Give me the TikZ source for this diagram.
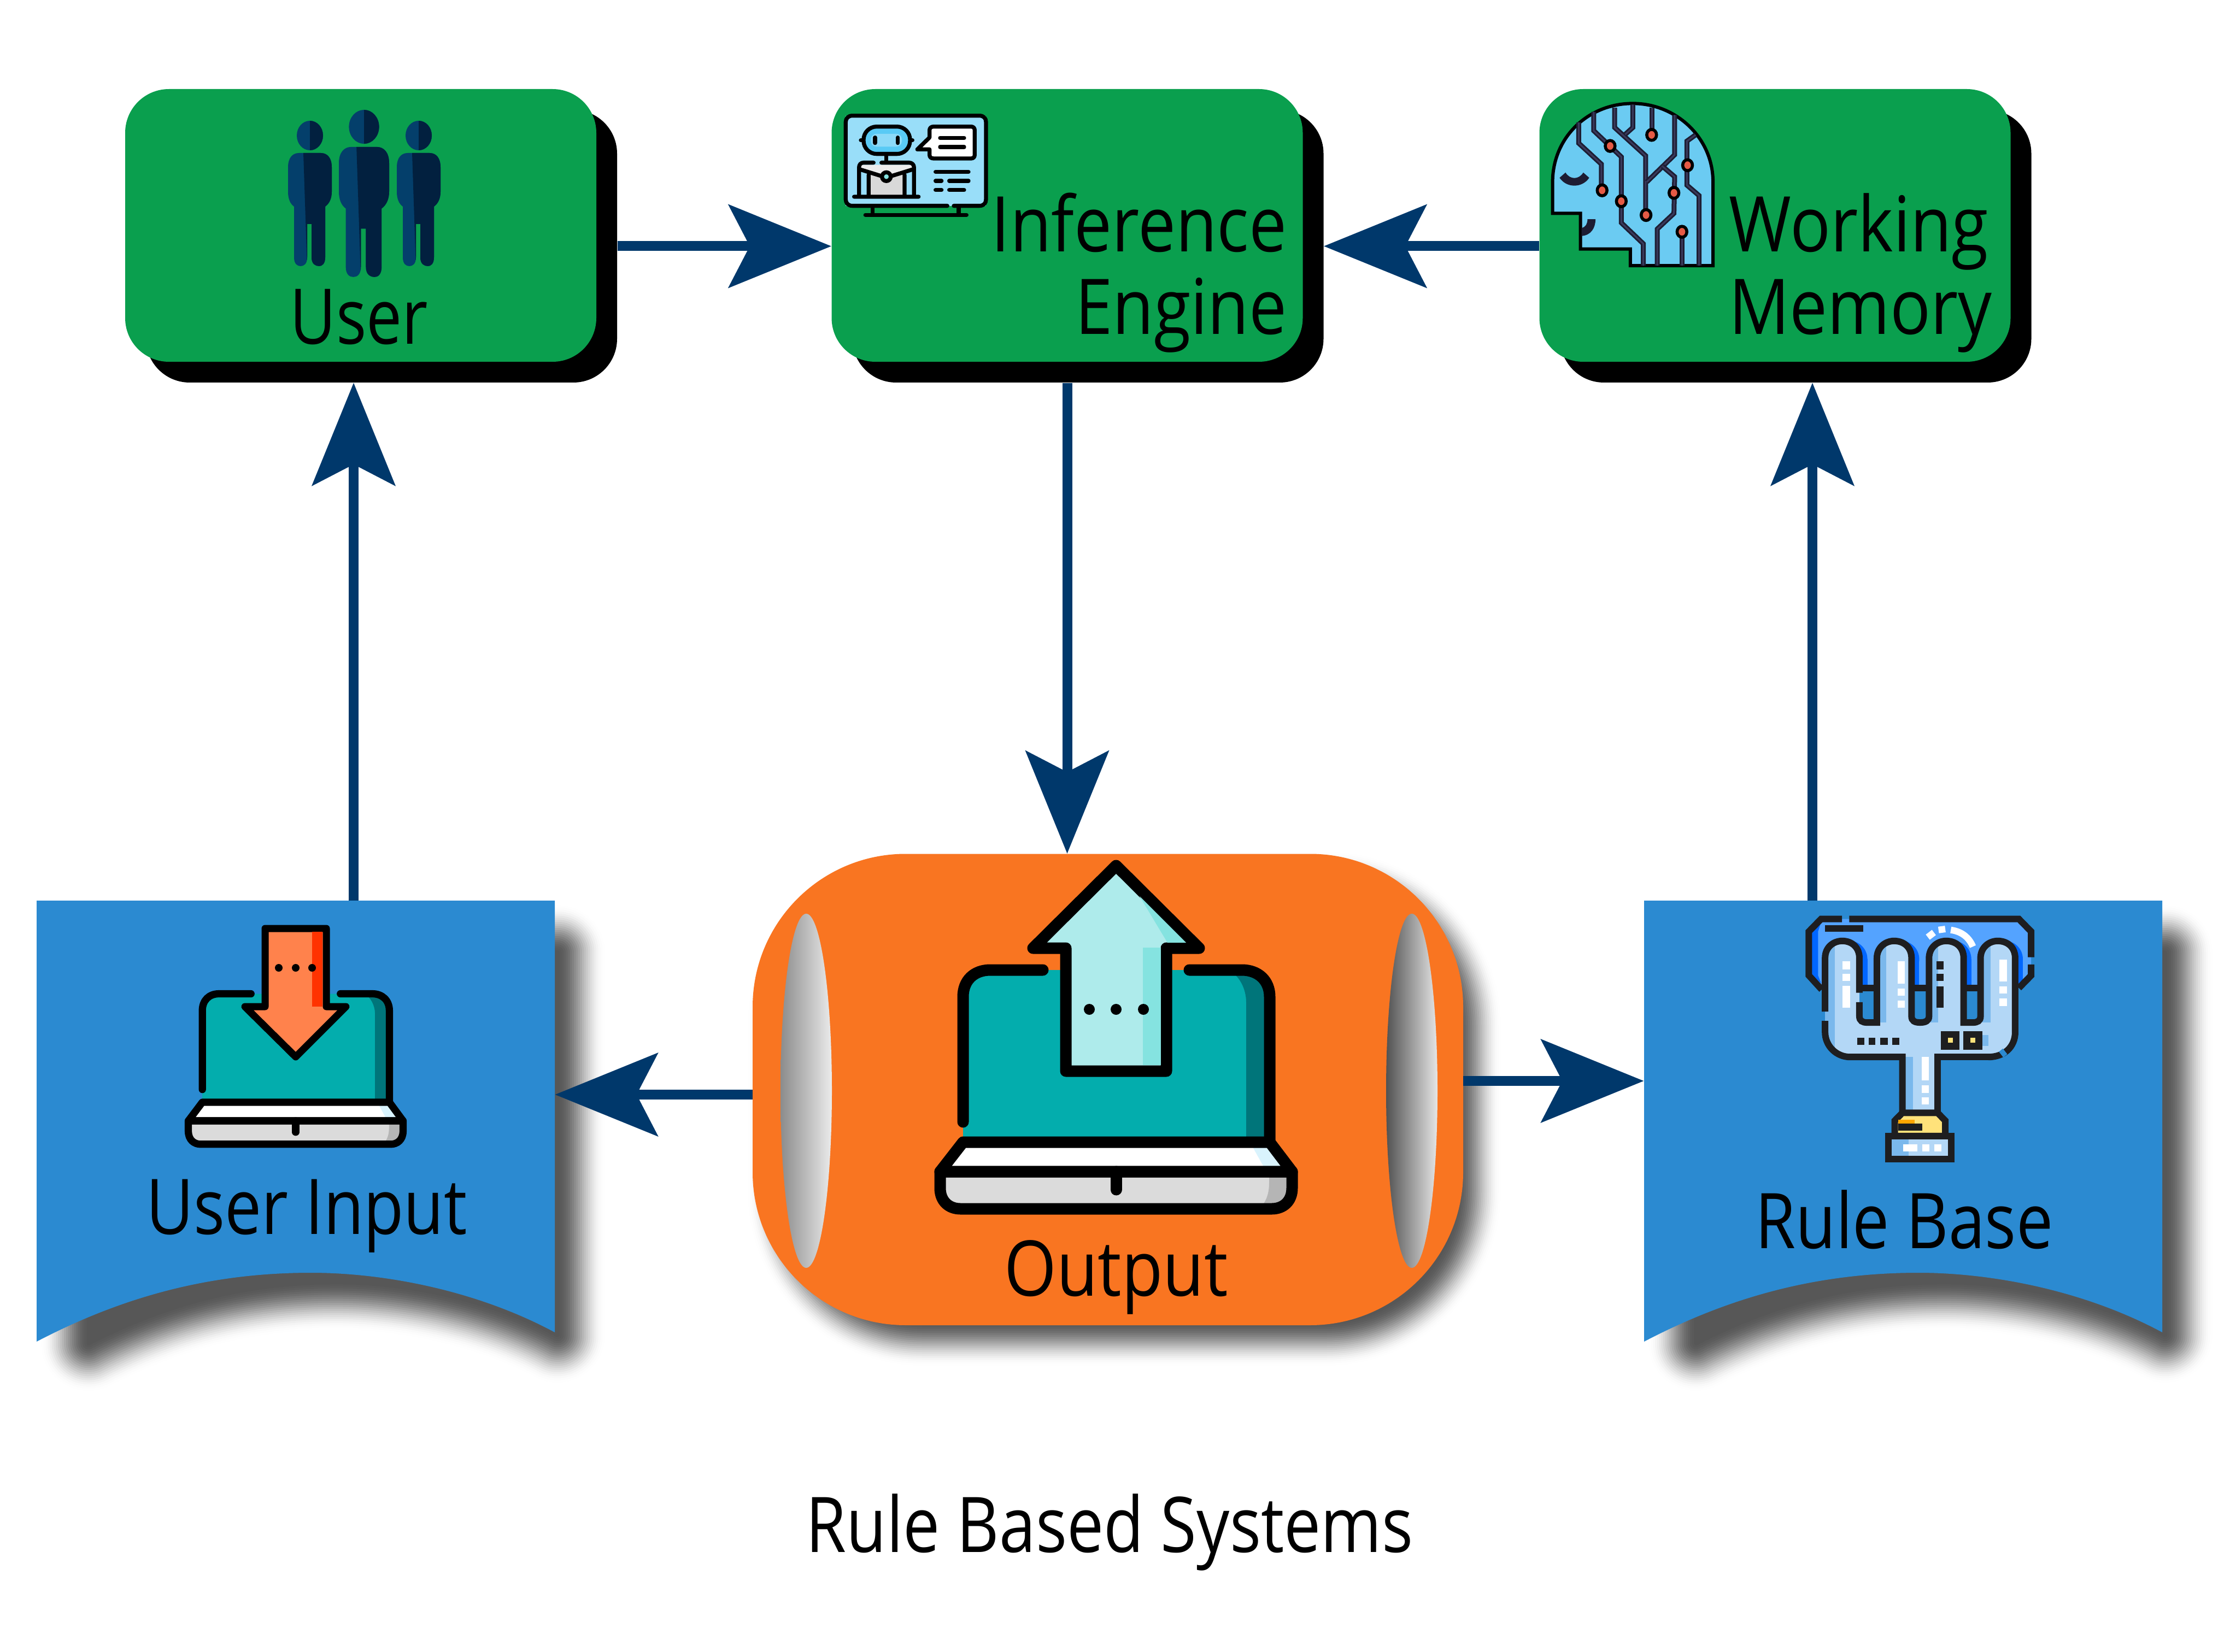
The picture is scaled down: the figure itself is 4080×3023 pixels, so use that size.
\documentclass[tikz,border=0pt]{standalone}
\usepackage{fontspec}
\setmainfont{Open Sans}[FakeStretch=0.852]
\newfontfamily\widefont{Open Sans}[FakeStretch=0.875]
\newfontfamily\slimfont{Open Sans}[FakeStretch=0.825]
\usetikzlibrary{arrows.meta}
\definecolor{boxgreen}{HTML}{0A9F4E}
\definecolor{docblue}{HTML}{2B8AD1}
\definecolor{outorange}{HTML}{F97521}
\definecolor{navy}{HTML}{00386B}
\definecolor{personlight}{HTML}{043F6B}
\definecolor{persondark}{HTML}{02203F}
\definecolor{scrteal}{HTML}{03ADAD}
\definecolor{scrdark}{HTML}{00757A}
\definecolor{pale}{HTML}{AEEBEB}
\definecolor{paledark}{HTML}{85E3E0}
\definecolor{headblue}{HTML}{6BCBF2}
\definecolor{wire}{HTML}{1D1D33}
\definecolor{wireline}{HTML}{3A3A5C}
\definecolor{dotred}{HTML}{E55A45}
\definecolor{ink}{HTML}{1E1E20}
\definecolor{handlight}{HTML}{B3D7F6}
\definecolor{handshade}{HTML}{7AB8EC}
\definecolor{plateblue}{HTML}{54A3FF}
\definecolor{platedark}{HTML}{0066FF}
\definecolor{gold}{HTML}{FFE27A}
\tikzset{
	greenbox/.style={fill=boxgreen,rounded corners=8mm,minimum width=86.2mm,minimum height=49.9mm,inner sep=0pt},
	blackbox/.style={greenbox,fill=black},
	docbox/.style={minimum width=94.8mm,minimum height=79mm,inner sep=0pt},
	lbl/.style={inner sep=0pt,anchor=base,font=\fontsize{40}{43}\selectfont},
	lblwide/.style={lbl,font=\fontsize{40}{43}\selectfont\widefont},
	flow/.style={draw=navy,line width=1.8mm,-{Stealth[length=18.9mm,width=15.4mm,inset=4mm,line width=0pt]}}
}
\newcommand{\softshadow}[3]{\begin{scope}[#1]
	\foreach \n in {24,23,...,0} {
		\pgfmathsetmacro{\shadeval}{33*(1+cos(180*\n/24))}
		\filldraw[draw=black!\shadeval,fill=black!\shadeval,line join=round,line width=2*\n/24*#2*0.1mm] #3;
	}
\end{scope}}
\newcommand{\sheetpath}{(67,1648) -- (1015,1648) -- (1015,2438) .. controls (870,2360) and (700,2329) .. (569,2329) .. controls (380,2329) and (220,2375) .. (67,2455) -- cycle}
\newcommand{\sheet}[1]{\begin{scope}[shift={(#1,0)}]
	\softshadow{shift={(591,2093)},xscale=.905,yscale=.886,shift={(-541,-2043)}}{90}{\sheetpath}
	\fill[docblue] \sheetpath;
\end{scope}}
\newcommand{\holeshape}[4]{\shade[left color=#2,middle color=#3,right color=#4] (#1,1996) ellipse[x radius=47,y radius=324];}
\newcommand{\laptopicon}[4]{\begin{scope}[shift={(#1,#2)},xscale=#3,yscale=#4,line width=#4*2.1mm,line cap=round,line join=round]
	\fill[scrteal] (-280,-54) -- (-280,-320) .. controls (-280,-350) and (-260,-369) .. (-230,-369) -- (230,-369) .. controls (260,-369) and (281,-350) .. (281,-320) -- (281,-54) -- cycle;
	\fill[scrdark] (238,-54) -- (238,-310) .. controls (238,-335) and (225,-360) .. (205,-369) -- (230,-369) .. controls (260,-369) and (281,-350) .. (281,-320) -- (281,-54) -- cycle;
	\draw (-280,-91) -- (-280,-320) .. controls (-280,-350) and (-260,-369) .. (-230,-369) -- (-134,-369);
	\draw (134,-369) -- (230,-369) .. controls (260,-369) and (281,-350) .. (281,-320) -- (281,-54);
	\fill[white] (-280,-54) -- (281,-54) -- (322,0) -- (-322,0) -- cycle;
	\fill[cyan!15] (245,-54) -- (285,-54) -- (318,0) -- (275,0) -- cycle;
	\fill[black!14] (-322,0) -- (322,0) -- (322,30) .. controls (322,55) and (305,68) .. (285,68) -- (-285,68) .. controls (-305,68) and (-322,55) .. (-322,30) -- cycle;
	\fill[black!29] (280,0) -- (322,0) -- (322,30) .. controls (322,55) and (305,68) .. (285,68) -- (262,68) .. controls (275,55) and (280,40) .. (280,20) -- cycle;
	\draw (-280,-54) -- (281,-54) -- (322,0) -- (-322,0) -- cycle;
	\draw (-322,0) -- (322,0) -- (322,30) .. controls (322,55) and (305,68) .. (285,68) -- (-285,68) .. controls (-305,68) and (-322,55) .. (-322,30) -- cycle;
	\draw (0,0) -- (0,33);
\end{scope}}
\newcommand{\persontop}{(-40,85) .. controls (-40,68) and (-32,59) .. (-20,59) -- (20,59) .. controls (32,59) and (40,68) .. (40,85) -- (40,130) .. controls (40,143) and (35,152) .. (28,157) -- (28,250) .. controls (28,262) and (22,266) .. (17,266) .. controls (10,266) and (3,262) .. (3,250) -- (3,189) -- (-5,189) -- (-5,250) .. controls (-5,262) and (-11,266) .. (-17,266) .. controls (-23,266) and (-29,262) .. (-29,250) -- (-29,157) .. controls (-36,152) and (-40,143) .. (-40,130) -- cycle}
\newcommand{\personicon}[3]{\begin{scope}[shift={(#1,#2)},scale=#3]
	\fill[personlight] (0,27) circle[x radius=24,y radius=27];
	\fill[personlight] \persontop;
	\begin{scope}
		\clip (0,0) rectangle (30,56);
		\fill[persondark] (0,27) circle[x radius=24,y radius=27];
	\end{scope}
	\begin{scope}
		\clip (-12,59) -- (45,59) -- (45,270) -- (-5,270) -- cycle;
		\fill[persondark] \persontop;
	\end{scope}
\end{scope}}
\newcommand{\handsilhouette}{(248,450) -- (248,215) .. controls (248,180) and (275,160) .. (304,160) .. controls (335,160) and (360,180) .. (360,215) -- (360,400) .. controls (360,415) and (370,420) .. (385,420) -- (417,420) -- \handrest -- (615,530) -- (615,710) -- (500,710) -- (500,530) -- (330,530) .. controls (285,530) and (248,495) .. (248,450) -- cycle}
\newcommand{\handrest}{(417,215) .. controls (417,180) and (445,160) .. (473,160) .. controls (505,160) and (530,180) .. (530,215) -- (530,400) .. controls (530,415) and (540,420) .. (558,420) .. controls (575,420) and (587,415) .. (587,400) -- (587,215) .. controls (587,180) and (615,160) .. (643,160) .. controls (675,160) and (700,180) .. (700,215) -- (700,420) -- (730,420) .. controls (745,420) and (755,415) .. (755,400) -- (755,215) .. controls (755,180) and (783,160) .. (811,160) .. controls (843,160) and (868,180) .. (868,215) -- (868,450) .. controls (868,500) and (830,530) .. (780,530)}
\begin{document}
\begin{tikzpicture}[x=0.1mm,y=-0.1mm]
	\useasboundingbox (0,0) rectangle (4080,3023);
	% top row
	\node[blackbox] (usershade) at (698,450.5) {};
	\node[blackbox] (infershade) at (1990.5,450.5) {};
	\node[blackbox] (memoshade) at (3285.5,450.5) {};
	\node[greenbox] (user) at (660,412.5) {};
	\node[greenbox] (infer) at (1952.5,412.5) {};
	\node[greenbox] (memo) at (3247.5,412.5) {};
	% bottom row
	\sheet{0}
	\sheet{2941}
	\node[docbox] (input) at (541,2043) {};
	\node[docbox] (rule) at (3482,2043) {};
	\coordinate (inputup) at (647,1648);
	\coordinate (ruleup) at (3316,1648);
	\coordinate (outleft) at (1377,2003);
	\coordinate (outright) at (2677,1978);
	\softshadow{}{84}{[rounded corners=24mm] (1449,1639.5) rectangle (2665,2418)}
	\node[fill=outorange,rounded corners=28mm,minimum width=130mm,minimum height=86.25mm,inner sep=0pt] (output) at (2027,1993.75) {};
	\holeshape{1475}{black!45}{black!30}{black!8}
	\holeshape{2583}{black!68}{black!38}{black!10}
	% connectors
	\draw[flow] (outright) -- (outright -| rule.west);
	\draw[flow] (usershade.east) -- (usershade.east -| infer.west);
	\draw[flow] (infershade.east -| memo.west) -- (infershade.east);
	\draw[flow] (infer |- infershade.south) -- (infer |- output.north);
	\draw[flow] (inputup) -- (inputup |- usershade.south);
	\draw[flow] (ruleup) -- (ruleup |- memoshade.south);
	\draw[flow] (outleft) -- (outleft -| input.east);
	% labels
	\node[lbl,font=\fontsize{40}{43}\selectfont\slimfont] (usertext) at (657,630) {User};
	\node[lblwide,anchor=base east,align=right] (infertext) at (2355,612) {Inference\\Engine};
	\node[lblwide,anchor=base west,align=left] (memotext) at (3163,612) {Working\\Memory};
	\node[lbl] (inputtext) at (561,2258) {User Input};
	\node[lbl] (ruletext) at (3484,2284) {Rule Base};
	\node[lblwide] (outputtext) at (2042,2371) {Output};
	\node[lbl] (title) at (2030,2840) {Rule Based Systems};
	% people
	\personicon{567}{221}{1}
	\personicon{766}{221}{1}
	\personicon{666}{201}{1.15}
	% laptops
	\laptopicon{2042}{2144}{1}{1}
	\laptopicon{541}{2051}{.61}{.63}
	\filldraw[fill=pale,line width=2.1mm,line join=round] (1950,1960) -- (1950,1735) -- (1890,1735) -- (2042,1584) -- (2194,1735) -- (2134,1735) -- (2134,1960) -- cycle;
	\fill[paledark] (2091,1734) -- (2124,1734) -- (2124,1949) -- (2091,1949) -- cycle;
	\fill[paledark] (2085,1640) -- (2170,1725) -- (2136,1725) -- cycle;
	\foreach \x in {1993,2042,2092} \fill (\x,1847) circle[radius=10];
	\filldraw[fill=orange!60!red!70!white,line width=1.3mm,line join=round] (485,1699) -- (597,1699) -- (597,1842) -- (633,1842) -- (541,1934) -- (448,1842) -- (485,1842) -- cycle;
	\fill[orange!40!red] (571,1705) -- (590,1705) -- (590,1842) -- (571,1842) -- cycle;
	\foreach \x in {510,541,571} \fill (\x,1771) circle[radius=7];
	% head with wires
	\begin{scope}[shift={(2780,130)},xscale=.638,yscale=.383]
		\filldraw[fill=headblue,line width=.6mm,line join=miter] (555,930) -- (555,530) .. controls (555,320) and (450,155) .. (325,155) .. controls (195,155) and (95,320) .. (95,530) -- (95,680) -- (175,680) -- (175,850) -- (318,850) -- (318,930) -- cycle;
		\foreach \wpath in {{(170,245)--(170,345)--(235,445)--(235,570)},
				{(213,195)--(213,285)--(292,410)--(292,725)--(355,825)--(355,930)},
				{(273,175)--(273,270)--(362,405)--(362,688)},
				{(325,160)--(325,270)--(303,303)},
				{(380,175)--(380,305)},
				{(445,210)--(445,400)--(365,530)},
				{(410,455)--(445,505)--(443,680)--(395,755)--(395,930)},
				{(505,305)--(480,335)--(480,545)--(515,595)--(515,930)},
				{(466,768)--(466,930)}} {
			\draw[wire,line width=.9mm] \wpath;
			\draw[wireline,line width=.3mm] \wpath;
		}
		\foreach \x/\y in {237/570,260/358,292/622,379/305,363/688,443/582,482/450,466/768}
			\filldraw[fill=dotred,draw=black,line width=.55mm] (\x,\y) circle[x radius=14,y radius=26];
		\fill[wire] (115,510) .. controls (135,560) and (180,560) .. (200,510) -- (183,485) .. controls (170,520) and (145,520) .. (132,485) -- cycle;
		\fill[wire] (195,708) -- (218,708) .. controls (218,750) and (205,785) .. (178,788) -- (178,750) .. controls (190,745) and (195,730) .. (195,708) -- cycle;
	\end{scope}
	% screen with robot
	\begin{scope}[shift={(1530,195)},scale=.3333,line width=.73mm,line cap=round,line join=round]
		\fill[cyan!40!white] (52,50) rectangle (822,545);
		\draw (610,545) -- (90,545) .. controls (65,545) and (52,530) .. (52,510) -- (52,85) .. controls (52,65) and (65,50) .. (90,50) -- (785,50) .. controls (810,50) and (822,65) .. (822,85) -- (822,510) .. controls (822,530) and (810,545) .. (785,545) -- (645,545);
		\draw (200,555) -- (200,595) (672,555) -- (672,595) (160,595) -- (715,595);
		\draw (135,185) -- (150,185) (405,185) -- (418,185) (275,265) -- (275,300);
		\filldraw[fill=cyan!65!white,rounded corners=2.4mm] (150,110) rectangle (405,260);
		\fill[cyan!45!white,rounded corners=1mm] (190,150) rectangle (360,220);
		\draw (213,170) -- (213,200) (338,170) -- (338,200);
		\fill[black!15] (178,370) rectangle (375,490);
		\fill[black!7] (130,320) -- (420,320) -- (420,345) -- (275,390) -- (130,345) -- cycle;
		\draw (125,490) -- (125,335) .. controls (125,318) and (135,308) .. (150,308) -- (205,308);
		\draw (248,308) -- (400,308) .. controls (415,308) and (427,318) .. (427,335) -- (427,490);
		\draw (130,345) -- (275,390) -- (420,345) (178,375) -- (178,490) (375,375) -- (375,490) (98,495) -- (452,495);
		\filldraw[fill=paledark] (275,385) circle[radius=24];
		\filldraw[fill=white] (512,130) .. controls (512,118) and (520,110) .. (535,110) -- (740,110) .. controls (752,110) and (760,118) .. (760,130) -- (760,265) .. controls (760,278) and (752,285) .. (740,285) -- (535,285) .. controls (520,285) and (512,278) .. (512,265) -- (512,235) -- (445,235) -- (512,170) -- cycle;
		\draw (570,172) -- (702,172) (570,222) -- (702,222) (545,358) -- (726,358) (545,408) -- (578,408) (620,408) -- (726,408) (545,458) -- (578,458) (620,458) -- (702,458);
	\end{scope}
	% hand on plate
	\begin{scope}[shift={(3200,1630)},xscale=.561,yscale=.574,line width=1.2mm]
		\fill[plateblue] (235,90) -- (880,90) -- (920,130) -- (920,270) -- (880,310) -- (235,310) -- (195,270) -- (195,130) -- cycle;
		\fill[platedark] (235,100) -- (205,130) -- (205,270) -- (235,295) -- (225,270) -- (225,130) -- cycle;
		\foreach \a in {248,417,587,755} {
			\fill[platedark] ({\a+80},218) circle[radius=58];
			\fill[platedark] ({\a+22},218) rectangle ({\a+138},310);
		}
		\draw[ink] (303,90) -- (235,90) -- (195,130) -- (195,270) -- (237,315);
		\draw[ink] (327,90) -- (880,90) -- (920,130) -- (920,212) (920,235) -- (920,270) -- (880,310);
		\draw[ink] (248,121) -- (373,121);
		\foreach \a in {360,530,700} \draw[ink] (\a,310) -- ({\a+57},310);
		\fill[handlight] \handsilhouette;
		\begin{scope}
			\clip \handsilhouette;
			\fill[handshade] (248,160) rectangle (280,540);
			\fill[handshade] (417,160) rectangle (448,420);
			\fill[handshade] (587,160) rectangle (617,420);
			\fill[handshade] (755,160) rectangle (787,420);
			\fill[handshade] (500,530) rectangle (535,710);
			\fill[handshade] (761,460) rectangle (780,495);
		\end{scope}
		\draw[ink] (248,385) -- (248,215) .. controls (248,180) and (275,160) .. (304,160) .. controls (335,160) and (360,180) .. (360,215) -- (360,325);
		\draw[ink] (360,355) -- (360,400) .. controls (360,415) and (370,420) .. (385,420) -- (417,420) -- \handrest;
		\draw[draw=docblue,line width=1.3mm] (835,512) -- (822,522);
		\draw[ink] (780,530) -- (615,530) -- (615,710);
		\draw[ink] (500,710) -- (500,530) -- (330,530) .. controls (285,530) and (248,495) .. (248,450) -- (248,415);
		\filldraw[fill=gold,draw=ink] (500,708) -- (615,708) -- (640,733) -- (640,782) -- (475,782) -- (475,733) -- cycle;
		\fill[orange!70!yellow] (487,730) rectangle (540,742);
		\fill[ink] (487,742) rectangle (565,765);
		\fill[handlight] (455,782) rectangle (660,855);
		\fill[handshade] (455,782) rectangle (520,855);
		\draw[ink] (455,782) rectangle (660,855);
		\foreach \xa/\ya/\xb/\yb in {305/225/330/250,305/265/330/288,305/303/330/373,484/225/508/296,484/312/508/335,484/350/508/373,817/220/841/290,817/305/841/328,817/343/841/367,563/530/587/605,563/621/587/644,563/659/587/682,502/808/549/831,565/808/588/831,604/808/628/831}
			\fill[white] (\xa,\ya) rectangle (\xb,\yb);
		\foreach \xa/\ya/\xb/\yb in {611/225/635/250,611/265/635/288,611/305/635/373,352/469/376/492,390/469/412/492,428/469/452/492,467/469/490/492,625/447/687/507,699/447/761/507}
			\fill[ink] (\xa,\ya) rectangle (\xb,\yb);
		\fill[gold] (648,469) rectangle (664,485);
		\fill[gold] (722,469) rectangle (738,485);
		\draw[white] (583,148) -- (603,133) (618,125) -- (640,122) (658,125) .. controls (695,130) and (718,150) .. (730,178);
	\end{scope}
\end{tikzpicture}
\end{document}
